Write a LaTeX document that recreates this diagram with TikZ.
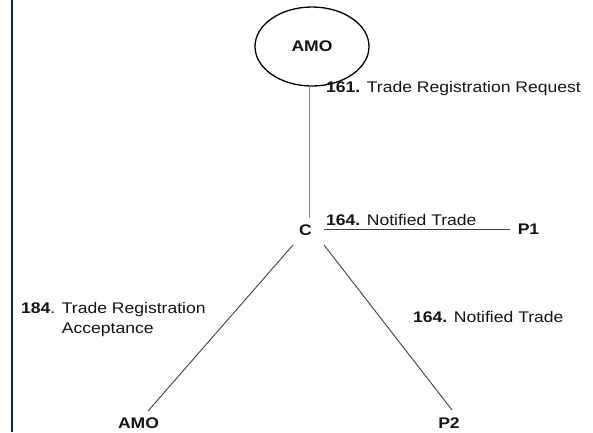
\documentclass[tikz,border=0pt]{standalone}
\usepackage{fontspec}
\setmainfont[FakeStretch=1.14]{Liberation Sans}
\usetikzlibrary{shapes.geometric}
\definecolor{navy}{HTML}{0B2A4F}
\definecolor{txt}{HTML}{141414}
\begin{document}
\begin{tikzpicture}[x=1pt,y=-1pt,
  lbl/.style={anchor=base west, inner sep=0, font=\fontsize{15.4}{20}\selectfont, text=txt},
  party/.style={inner sep=0, font=\fontsize{15.4}{18}\selectfont\bfseries, text=txt},
  link/.style={line width=0.9pt, draw=black!75},
  vlink/.style={line width=1pt, draw=black!45}]
\useasboundingbox (0,0) rectangle (593,432);
\fill[navy] (11,0) rectangle (13.3,432);

% nodes
\node[party, draw=black, ellipse, line width=1.3pt, minimum width=114, minimum height=79] (amo) at (312,46.5) {AMO};
\node[party] (c) at (305.5,230.5) {C};
\node[party] (p1) at (528.5,229.5) {P1};
\node[party] (amo2) at (138.5,423.5) {AMO};
\node[party] (p2) at (449,423) {P2};

% connector ends
\coordinate (ctop) at (309,218);
\coordinate (amobot) at (309,86);
\coordinate (cright) at (324,229.5);
\coordinate (p1left) at (510,229.5);
\coordinate (cdl) at (293,245);
\coordinate (amo2top) at (148,411);
\coordinate (cdr) at (324,245);
\coordinate (p2top) at (452,410);

\draw[vlink] (amobot) -- (ctop);
\draw[link] (cright) -- (p1left);
\draw[link] (cdl) -- (amo2top);
\draw[link] (cdr) -- (p2top);

% labels
\node[lbl] (l161) at (326,92.5) {\textbf{161.} Trade Registration Request};
\node[lbl] (l164a) at (326,225) {\textbf{164.} Notified Trade};
\node[lbl] (l164b) at (413,322.5) {\textbf{164.} Notified Trade};
\node[lbl] (l184a) at (21,313) {\textbf{184}. Trade Registration};
\node[lbl] (l184b) at (21,333.5) {\phantom{\textbf{184}. }Acceptance};
\end{tikzpicture}
\end{document}
